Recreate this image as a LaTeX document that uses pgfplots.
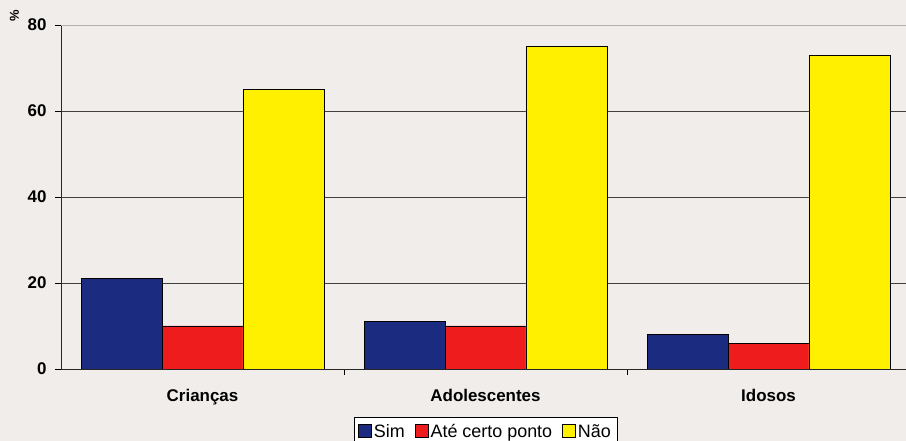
\documentclass[border=0pt]{standalone}
\usepackage{fontspec}
\setmainfont{Liberation Sans}
\usepackage{pgfplots}
\pgfplotsset{compat=1.18}
\definecolor{bg}{HTML}{F1EDEB}
\definecolor{simblue}{HTML}{1B2C80}
\definecolor{redbar}{HTML}{EE1C1C}
\definecolor{yelbar}{HTML}{FFF000}

\begin{document}
\begin{tikzpicture}[x=1bp,y=1bp]
\useasboundingbox (0,0) rectangle (906,441);
\fill[bg] (0,0) rectangle (906,441);
\begin{axis}[
    at={(61bp,72bp)}, anchor=south west,
    scale only axis, width=849bp, height=344bp,
    ybar, bar width=0.286,
    xmin=-0.5, xmax=2.5, ymin=0, ymax=80,
    axis x line*=bottom, axis y line*=left,
    axis line style={black!85, line width=0.8bp},
    tick align=outside, major tick length=6bp,
    tick style={black, line width=0.8bp},
    xtick={0.5,1.5}, xticklabels={},
    extra x ticks={0,1,2},
    extra x tick labels={Crianças,Adolescentes,Idosos},
    extra x tick style={major tick length=0pt, grid=none,
        xticklabel style={yshift=-17bp}},
    ytick={0,20,40,60},
    extra y ticks={80},
    extra y tick style={grid style={gray!60, line width=0.8bp}},
    ymajorgrids=true,
    grid style={black!75, line width=0.8bp},
    ticklabel style={font=\fontsize{17}{20}\selectfont\bfseries},
    yticklabel style={xshift=-5bp},
    /pgf/number format/assume math mode=true,
    legend style={at={(0.5,-0.14)}, anchor=north, legend columns=-1,
        draw=black, fill=white, inner xsep=4bp, inner ysep=5bp,
        font=\fontsize{18}{21}\selectfont,
        /tikz/every even column/.append style={column sep=8bp}},
    legend image code/.code={\draw[#1,draw=black] (0bp,-5.5bp) rectangle (13bp,7.5bp);},
]
\addplot[fill=simblue, draw=black, line width=0.8bp, bar shift=-0.286]
    coordinates {(0,21) (1,11) (2,8)};
\addlegendentry{Sim}
\addplot[fill=redbar, draw=black, line width=0.8bp, bar shift=0]
    coordinates {(0,10) (1,10) (2,6)};
\addlegendentry{Até certo ponto}
\addplot[fill=yelbar, draw=black, line width=0.8bp, bar shift=0.286]
    coordinates {(0,65) (1,75) (2,73)};
\addlegendentry{Não}
\end{axis}
\node[rotate=90, font=\fontsize{13}{15}\selectfont\bfseries] at (14.5,425.5) {\%};
\end{tikzpicture}
\end{document}
